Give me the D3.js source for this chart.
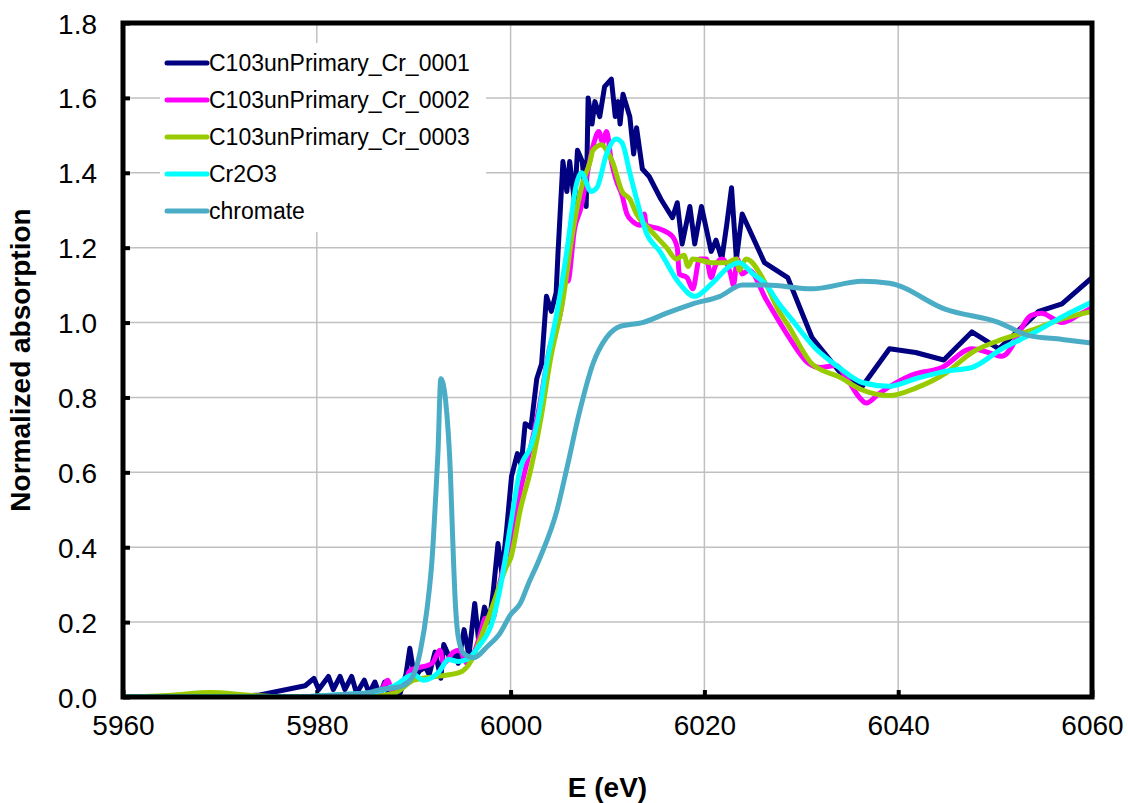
<!DOCTYPE html>
<html>
<head>
<meta charset="utf-8">
<script src="https://cdn.jsdelivr.net/npm/d3@7"></script>
<style>
  body { margin: 0; background: #fff; }
  svg { display: block; font-family: Arial, "Liberation Sans", sans-serif; }
</style>
</head>
<body>
<div id="chart"></div>
<script>
// Series names and colours, in drawing order.
var seriesNames = ["C103unPrimary_Cr_0001", "C103unPrimary_Cr_0002", "C103unPrimary_Cr_0003", "Cr2O3", "chromate"];
var seriesColors = ["#000080", "#ff00ff", "#99cc00", "#00ffff", "#4bacc6"];

var xTicks = [5960, 5980, 6000, 6020, 6040, 6060];
var yTicks = [0, 0.2, 0.4, 0.6, 0.8, 1.0, 1.2, 1.4, 1.6, 1.8];

// [E (eV), normalized absorption] pairs.
var scan0001 = [
  [5960, 0.0], [5965, 0.0], [5970, 0.0], [5974, 0.005], [5978.8, 0.03],
  [5979.7, 0.05], [5980.2, 0.02], [5981.2, 0.055], [5981.7, 0.02], [5982.4, 0.055],
  [5982.9, 0.02], [5983.6, 0.055], [5984.1, 0.01], [5984.9, 0.045], [5985.4, 0.01],
  [5986.0, 0.04], [5986.5, 0.005], [5987.0, 0.04], [5987.5, 0.0], [5988.6, 0.01],
  [5989.2, 0.06], [5989.6, 0.13], [5990.1, 0.05], [5990.6, 0.07], [5991.2, 0.08],
  [5991.6, 0.06], [5992.2, 0.12], [5992.8, 0.05], [5993.1, 0.14], [5993.8, 0.10],
  [5994.3, 0.12], [5994.6, 0.09], [5995.2, 0.18], [5995.7, 0.11], [5996.3, 0.25],
  [5996.7, 0.15], [5997.3, 0.24], [5997.8, 0.20], [5998.2, 0.28], [5998.7, 0.41],
  [5999.1, 0.33], [5999.6, 0.45], [6000.1, 0.59], [6000.7, 0.65], [6001.1, 0.62],
  [6001.5, 0.73], [6002.1, 0.72], [6002.7, 0.85], [6003.2, 0.89], [6003.7, 1.07],
  [6004.2, 1.03], [6004.7, 1.08], [6004.9, 1.19], [6005.4, 1.43], [6005.8, 1.35],
  [6006.1, 1.43], [6006.6, 1.32], [6006.9, 1.46], [6007.4, 1.43], [6007.8, 1.31],
  [6008.0, 1.60], [6008.4, 1.53], [6008.7, 1.59], [6009.2, 1.55], [6009.7, 1.63],
  [6010.4, 1.65], [6010.8, 1.55], [6011.1, 1.59], [6011.3, 1.53], [6011.6, 1.61],
  [6012.3, 1.55], [6012.7, 1.45], [6013.0, 1.52], [6013.6, 1.41], [6014.3, 1.39],
  [6015.5, 1.33], [6016.7, 1.28], [6017.2, 1.32], [6017.7, 1.21], [6018.5, 1.31],
  [6019.0, 1.21], [6019.7, 1.31], [6020.2, 1.25], [6020.7, 1.19], [6021.2, 1.22],
  [6021.8, 1.17], [6022.3, 1.26], [6022.8, 1.36], [6023.3, 1.17], [6023.9, 1.29],
  [6026.2, 1.16], [6028.6, 1.12], [6031.1, 0.96], [6033.9, 0.87], [6036.3, 0.83],
  [6039.1, 0.93], [6041.8, 0.92], [6044.7, 0.90], [6047.6, 0.975], [6050.4, 0.93],
  [6054.5, 1.03], [6056.9, 1.05], [6060, 1.12]
];

var scan0002 = [
  [5960, 0.0], [5975, 0.0], [5985, 0.005], [5986.5, 0.01], [5987.3, 0.045],
  [5987.8, 0.015], [5989.0, 0.03], [5989.6, 0.07], [5991.9, 0.09], [5992.7, 0.125],
  [5993.1, 0.09], [5994.1, 0.12], [5994.7, 0.125], [5995.5, 0.09], [5996.1, 0.11],
  [5996.9, 0.17], [5997.4, 0.21], [5998.2, 0.21], [5998.6, 0.27], [5999.3, 0.35],
  [6000.0, 0.42], [6001.0, 0.55], [6002.0, 0.66], [6003.0, 0.78], [6004.0, 0.93],
  [6005.3, 1.05], [6005.6, 1.12], [6005.9, 1.11], [6006.6, 1.25], [6007.3, 1.31],
  [6008.0, 1.41], [6008.6, 1.48], [6009.1, 1.51], [6009.5, 1.48], [6009.9, 1.51],
  [6010.4, 1.43], [6010.9, 1.38], [6011.5, 1.34], [6012.0, 1.29], [6012.6, 1.27],
  [6013.4, 1.26], [6013.8, 1.29], [6014.0, 1.26], [6015.4, 1.25], [6016.7, 1.23],
  [6017.2, 1.20], [6017.4, 1.13], [6018.2, 1.12], [6018.8, 1.09], [6019.5, 1.17],
  [6020.2, 1.17], [6020.7, 1.12], [6021.1, 1.15], [6021.8, 1.17], [6022.7, 1.13],
  [6023.0, 1.10], [6023.4, 1.17], [6023.9, 1.13], [6024.6, 1.14], [6026.4, 1.06],
  [6028.5, 0.97], [6030.8, 0.89], [6031.9, 0.88], [6033.6, 0.885], [6034.6, 0.855],
  [6036.0, 0.80], [6036.7, 0.785], [6038.0, 0.81], [6041.4, 0.86], [6044.5, 0.88],
  [6047.6, 0.93], [6049.3, 0.92], [6050.7, 0.91], [6053.8, 1.02], [6054.8, 1.025],
  [6056.9, 1.0], [6058.6, 1.02], [6060, 1.04]
];

var scan0003 = [
  [5960, 0.0], [5965, 0.005], [5969, 0.012], [5973, 0.005], [5977, 0.0],
  [5985, 0.0], [5988, 0.01], [5990, 0.045], [5992.4, 0.055], [5994.7, 0.065],
  [5996.0, 0.10], [5996.8, 0.15], [5998.1, 0.24], [5999.6, 0.35], [6000.0, 0.37],
  [6001.0, 0.50], [6002.1, 0.61], [6003.1, 0.74], [6004.1, 0.90], [6005.4, 1.06],
  [6006.4, 1.24], [6007.4, 1.37], [6008.2, 1.43], [6008.5, 1.46], [6009.4, 1.475],
  [6009.9, 1.46], [6010.5, 1.43], [6011.5, 1.35], [6012.3, 1.33], [6013.0, 1.29],
  [6014.3, 1.25], [6016.1, 1.20], [6017.1, 1.17], [6017.9, 1.18], [6018.3, 1.15],
  [6018.8, 1.17], [6020.8, 1.16], [6022.3, 1.16], [6023.3, 1.17], [6023.6, 1.14],
  [6024.3, 1.17], [6026.4, 1.10], [6027.7, 1.03], [6028.7, 0.99], [6031.1, 0.89],
  [6033.9, 0.855], [6036.3, 0.82], [6039.1, 0.805], [6041.8, 0.825], [6044.9, 0.865],
  [6047.6, 0.92], [6050.7, 0.955], [6053.8, 0.98], [6056.9, 1.01], [6060, 1.03]
];

var cr2o3 = [
  [5960, 0.0], [5975, 0.0], [5985, 0.01], [5988, 0.03], [5990, 0.06],
  [5991.0, 0.045], [5992.6, 0.067], [5993.6, 0.10], [5994.6, 0.095], [5995.5, 0.10],
  [5996.7, 0.135], [5998.1, 0.20], [5999.2, 0.33], [6000.0, 0.46], [6001.0, 0.61],
  [6002.1, 0.67], [6002.8, 0.74], [6003.8, 0.90], [6004.8, 1.03], [6005.8, 1.19],
  [6006.8, 1.37], [6007.3, 1.40], [6008.3, 1.35], [6008.9, 1.36], [6009.9, 1.45],
  [6010.9, 1.49], [6011.5, 1.48], [6012.3, 1.40], [6013.0, 1.33], [6014.0, 1.24],
  [6015.4, 1.19], [6017.4, 1.105], [6019.0, 1.07], [6020.8, 1.105], [6022.6, 1.15],
  [6023.6, 1.16], [6025.0, 1.13], [6026.4, 1.10], [6027.7, 1.05], [6028.8, 1.015],
  [6031.5, 0.93], [6033.9, 0.88], [6036.3, 0.84], [6039.1, 0.83], [6041.8, 0.85],
  [6044.9, 0.87], [6047.6, 0.88], [6050.7, 0.93], [6053.8, 0.97], [6056.9, 1.015],
  [6060, 1.055]
];

var chromate = [
  [5960, 0.0], [5975, 0.0], [5985, 0.01], [5986.6, 0.02], [5988.9, 0.03],
  [5990.0, 0.06], [5990.7, 0.125], [5991.4, 0.24], [5991.9, 0.37], [5992.3, 0.55],
  [5992.5, 0.65], [5992.8, 0.85], [5993.0, 0.84], [5993.3, 0.79], [5993.8, 0.59],
  [5994.0, 0.44], [5994.3, 0.25], [5994.6, 0.16], [5995.2, 0.115], [5996.2, 0.105],
  [5997.6, 0.135], [5998.9, 0.17], [6000.0, 0.22], [6001.0, 0.25], [6001.8, 0.30],
  [6003.0, 0.37], [6004.8, 0.50], [6005.8, 0.61], [6007.1, 0.76], [6008.5, 0.89],
  [6009.9, 0.96], [6011.3, 0.99], [6013.6, 1.0], [6016.1, 1.025], [6018.8, 1.05],
  [6021.6, 1.07], [6023.9, 1.10], [6026.4, 1.10], [6031.1, 1.09], [6036.3, 1.11],
  [6039.1, 1.105], [6044.9, 1.035], [6050.4, 1.0], [6053.5, 0.965], [6056.9, 0.955],
  [6060, 0.945]
];

var allSeries = [scan0001, scan0002, scan0003, cr2o3, chromate];

var width = 1128, height = 803;
var margin = {top: 23, right: 36, bottom: 106, left: 123};

var svg = d3.select("#chart").append("svg")
  .attr("width", width)
  .attr("height", height);

var x = d3.scaleLinear()
  .domain([5960, 6060])
  .range([margin.left, width - margin.right]);

var y = d3.scaleLinear()
  .domain([0, 1.8])
  .range([height - margin.bottom, margin.top]);

// gridlines
svg.append("g")
  .selectAll("line")
  .data(xTicks)
  .enter().append("line")
    .attr("x1", d => x(d)).attr("x2", d => x(d))
    .attr("y1", y(0)).attr("y2", y(1.8))
    .attr("stroke", "#c0c0c0")
    .attr("stroke-width", 1.5);

svg.append("g")
  .selectAll("line")
  .data(yTicks)
  .enter().append("line")
    .attr("x1", x(5960)).attr("x2", x(6060))
    .attr("y1", d => y(d)).attr("y2", d => y(d))
    .attr("stroke", "#c0c0c0")
    .attr("stroke-width", 1.5);

// legend background hides the grid behind it
svg.append("rect")
  .attr("x", 160).attr("y", 43)
  .attr("width", 326).attr("height", 189)
  .attr("fill", "#fff");

// axes (ticks point inward)
var xAxis = svg.append("g")
  .attr("transform", "translate(0," + y(0) + ")")
  .call(d3.axisBottom(x).tickValues(xTicks).tickSize(-7).tickPadding(18)
    .tickFormat(d3.format("d")));

var yAxis = svg.append("g")
  .attr("transform", "translate(" + x(5960) + ",0)")
  .call(d3.axisLeft(y).tickValues(yTicks).tickSize(-7).tickPadding(26)
    .tickFormat(d3.format(".1f")));

[xAxis, yAxis].forEach(g => {
  g.select(".domain").remove();
  g.selectAll(".tick line").attr("stroke", "#000").attr("stroke-width", 4);
  g.selectAll(".tick text")
    .attr("fill", "#000")
    .style("font-size", "28px")
    .style("font-family", "Arial, 'Liberation Sans', sans-serif");
});
yAxis.selectAll(".tick text").attr("dy", "0.36em");

// data lines: the noisy first scan is drawn straight, the others smoothed
var straight = d3.line()
  .x(d => x(d[0]))
  .y(d => y(d[1]));

var smooth = d3.line()
  .x(d => x(d[0]))
  .y(d => y(d[1]))
  .curve(d3.curveMonotoneX);

svg.append("defs").append("clipPath")
  .attr("id", "plotClip")
  .append("rect")
    .attr("x", x(5960)).attr("y", y(1.8))
    .attr("width", x(6060) - x(5960))
    .attr("height", y(0) - y(1.8));

svg.append("g")
  .attr("clip-path", "url(#plotClip)")
  .selectAll("path")
  .data(allSeries)
  .enter().append("path")
    .attr("d", (d, i) => i == 0 ? straight(d) : smooth(d))
    .attr("fill", "none")
    .attr("stroke", (d, i) => seriesColors[i])
    .attr("stroke-width", 5)
    .attr("stroke-linejoin", "round")
    .attr("stroke-linecap", "round");

// frame around the plot area
svg.append("rect")
  .attr("x", x(5960)).attr("y", y(1.8))
  .attr("width", x(6060) - x(5960))
  .attr("height", y(0) - y(1.8))
  .attr("fill", "none")
  .attr("stroke", "#000")
  .attr("stroke-width", 5);

// legend
var legend = svg.append("g")
  .selectAll("g")
  .data(seriesNames)
  .enter().append("g")
    .attr("transform", (d, i) => "translate(167," + (63 + i * 37) + ")");

legend.append("line")
  .attr("x1", 0).attr("x2", 40)
  .attr("stroke", (d, i) => seriesColors[i])
  .attr("stroke-width", 5)
  .attr("stroke-linecap", "round");

legend.append("text")
  .attr("x", 42)
  .attr("dy", "0.36em")
  .style("font-size", "23px")
  .text(d => d);

// axis titles
svg.append("text")
  .attr("x", (x(5960) + x(6060)) / 2)
  .attr("y", 797)
  .attr("text-anchor", "middle")
  .style("font-size", "28px")
  .style("font-weight", "bold")
  .text("E (eV)");

svg.append("text")
  .attr("transform", "translate(30," + (y(0) + y(1.8)) / 2 + ") rotate(-90)")
  .attr("text-anchor", "middle")
  .style("font-size", "28px")
  .style("font-weight", "bold")
  .text("Normalized absorption");
</script>
</body>
</html>
